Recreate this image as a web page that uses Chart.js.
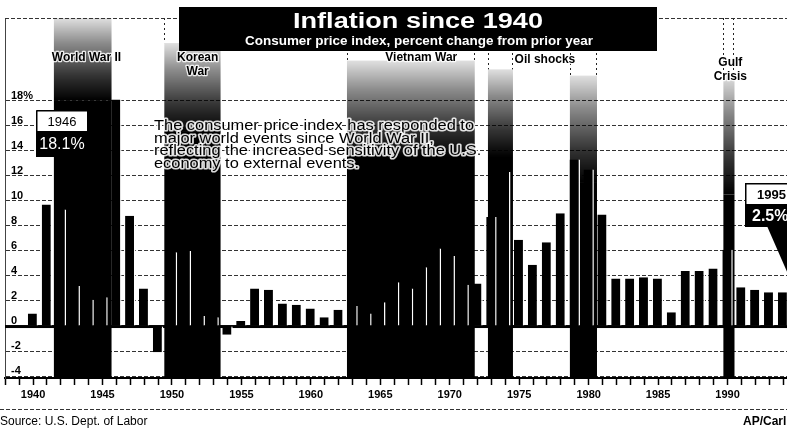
<!DOCTYPE html>
<html>
<head>
<meta charset="utf-8">
<title>Inflation since 1940</title>
<script src="https://cdn.jsdelivr.net/npm/chart.js@4.4.0/dist/chart.umd.min.js"></script>
<style>
  html, body { margin: 0; padding: 0; background: #fff; }
  #wrap { width: 787px; height: 429px; position: relative; }
</style>
</head>
<body>
<div id="wrap"><canvas id="inflationChart"></canvas></div>
<script>
// Consumer price index, percent change from prior year (December to December)
const years = [1940, 1941, 1942, 1943, 1944, 1945, 1946, 1947, 1948, 1949,
               1950, 1951, 1952, 1953, 1954, 1955, 1956, 1957, 1958, 1959,
               1960, 1961, 1962, 1963, 1964, 1965, 1966, 1967, 1968, 1969,
               1970, 1971, 1972, 1973, 1974, 1975, 1976, 1977, 1978, 1979,
               1980, 1981, 1982, 1983, 1984, 1985, 1986, 1987, 1988, 1989,
               1990, 1991, 1992, 1993, 1994, 1995];
const inflation = [1.0, 9.7, 9.3, 3.2, 2.1, 2.3, 18.1, 8.8, 3.0, -2.1,
                   5.9, 6.0, 0.8, 0.7, -0.7, 0.4, 3.0, 2.9, 1.8, 1.7,
                   1.4, 0.7, 1.3, 1.6, 1.0, 1.9, 3.5, 3.0, 4.7, 6.2,
                   5.6, 3.3, 3.4, 8.7, 12.3, 6.9, 4.9, 6.7, 9.0, 13.3,
                   12.5, 8.9, 3.8, 3.8, 3.9, 3.8, 1.1, 4.4, 4.4, 4.6,
                   6.1, 3.1, 2.9, 2.7, 2.7, 2.5];

// World events shaded on the chart (start / end in years)
const eventNames = ['World War II', 'Korean War', 'Vietnam War', 'Oil shocks', 'Oil shocks', 'Gulf Crisis'];
const eventStart = [1941.5, 1949.45, 1962.6, 1972.75, 1978.65, 1989.7];
const eventEnd   = [1945.65, 1953.5, 1971.8, 1974.55, 1980.6, 1990.5];

// Highlighted years
const calloutYears = [1946, 1995];

const yTickMin = -4;
const yTickMax = 18;

const FONT = "'Liberation Sans', Arial, sans-serif";

// where the shading of each band starts to fade in and where it is solid (in percent)
const bandFade = [[24.6, 18.0], [22.6, 15.5], [21.2, 13.5], [20.5, 13.5], [20.0, 11.5], [20.0, 10.5]];

function valueOf(year) {
    return inflation[years.indexOf(year)];
}

function fitText(ctx, text, cx, y, width) {
    const w = ctx.measureText(text).width;
    ctx.save();
    ctx.translate(cx, y);
    ctx.scale(width / w, 1);
    ctx.fillText(text, 0, 0);
    ctx.restore();
}

const bandsPlugin = {
    id: 'bands',
    beforeDatasetsDraw(chart) {
        const { ctx, chartArea, scales: { x, y } } = chart;
        ctx.save();
        ctx.beginPath();
        ctx.rect(chartArea.left, chartArea.top, chartArea.right - chartArea.left, chartArea.bottom - chartArea.top);
        ctx.clip();

        eventStart.forEach((start, i) => {
            const x0 = x.getPixelForValue(start);
            const x1 = x.getPixelForValue(eventEnd[i]);
            const yTop = y.getPixelForValue(bandFade[i][0]);
            const ySolid = y.getPixelForValue(bandFade[i][1]);

            const g = ctx.createLinearGradient(0, yTop, 0, ySolid);
            g.addColorStop(0, 'rgba(0,0,0,0.12)');
            g.addColorStop(0.3, 'rgba(0,0,0,0.45)');
            g.addColorStop(0.7, 'rgba(0,0,0,0.8)');
            g.addColorStop(1, 'rgba(0,0,0,1)');
            ctx.fillStyle = g;
            ctx.fillRect(x0, yTop, x1 - x0, ySolid - yTop);
            ctx.fillStyle = '#000';
            ctx.fillRect(x0, ySolid, x1 - x0, chartArea.bottom - ySolid);

            // dotted edges above the shading
            ctx.strokeStyle = '#222';
            ctx.lineWidth = 1;
            ctx.setLineDash([2, 3]);
            ctx.beginPath();
            ctx.moveTo(Math.round(x0) + 0.5, chartArea.top);
            ctx.lineTo(Math.round(x0) + 0.5, yTop);
            ctx.moveTo(Math.round(x1) - 0.5, chartArea.top);
            ctx.lineTo(Math.round(x1) - 0.5, yTop);
            ctx.stroke();
            ctx.setLineDash([]);
        });

        // heavy zero line
        const y0 = y.getPixelForValue(0);
        ctx.fillStyle = '#000';
        ctx.fillRect(chartArea.left - 2, y0 - 1, chartArea.right - chartArea.left + 2, 3);
        ctx.restore();
    },
    afterDatasetsDraw(chart) {
        const { ctx, scales: { x, y } } = chart;
        ctx.save();
        ctx.textAlign = 'center';
        ctx.textBaseline = 'middle';
        ctx.font = `bold 12px ${FONT}`;
        ctx.lineJoin = 'round';
        ctx.strokeStyle = 'rgba(255,255,255,0.85)';
        ctx.lineWidth = 2.5;
        ctx.fillStyle = '#000';

        const labels = [
            { text: 'World War II', year: 1943.85, lines: [21.45] },
            { text: 'Korean|War', year: 1951.85, lines: [21.4, 20.3] },
            { text: 'Vietnam War', year: 1967.95, lines: [21.4] },
            { text: 'Oil shocks', year: 1976.85, lines: [21.25] },
            { text: 'Gulf|Crisis', year: 1990.2, lines: [21.0, 19.95] }
        ];
        labels.forEach(l => {
            l.text.split('|').forEach((t, k) => {
                const px = x.getPixelForValue(l.year);
                const py = y.getPixelForValue(l.lines[k]);
                ctx.strokeText(t, px, py);
                ctx.fillText(t, px, py);
            });
        });

        // explanatory paragraph
        const para = [
            'The consumer price index has responded to',
            'major world events since World War II,',
            'reflecting the increased sensitivity of the U.S.',
            'economy to external events.'
        ];
        ctx.font = `14px ${FONT}`;
        ctx.textAlign = 'left';
        ctx.textBaseline = 'alphabetic';
        const sx = 320 / ctx.measureText(para[0]).width;
        const left = 154;
        para.forEach((line, k) => {
            const by = 130 + k * 12.5;
            ctx.save();
            ctx.translate(left, by);
            ctx.scale(sx, 1);
            ctx.lineWidth = 3;
            ctx.strokeText(line, 0, 0);
            ctx.fillText(line, 0, 0);
            ctx.restore();
        });

        // 1946 callout
        const yr1 = calloutYears[0];
        ctx.strokeStyle = '#000';
        ctx.lineWidth = 1;
        ctx.setLineDash([2, 2]);
        ctx.beginPath();
        ctx.moveTo(87, 151);
        ctx.lineTo(x.getPixelForValue(yr1 - 0.4), y.getPixelForValue(15.8));
        ctx.stroke();
        ctx.setLineDash([]);

        ctx.fillStyle = '#fff';
        ctx.fillRect(36, 110, 52, 22);
        ctx.lineWidth = 1.5;
        ctx.strokeRect(36.75, 110.75, 51, 21);
        ctx.fillStyle = '#000';
        ctx.fillRect(36, 132, 53, 25);
        ctx.textAlign = 'center';
        ctx.textBaseline = 'middle';
        ctx.font = `13px ${FONT}`;
        ctx.fillStyle = '#000';
        ctx.fillText(String(yr1), 62, 122);
        ctx.font = `16px ${FONT}`;
        ctx.fillStyle = '#fff';
        ctx.fillText(valueOf(yr1).toFixed(1) + '%', 62, 145);
        ctx.restore();
    },
    afterDraw(chart) {
        const { ctx, chartArea, scales: { x, y } } = chart;
        ctx.save();

        // dashed top frame
        ctx.strokeStyle = '#333';
        ctx.lineWidth = 1;
        ctx.setLineDash([4, 2]);
        ctx.beginPath();
        ctx.moveTo(chartArea.left, chartArea.top + 0.5);
        ctx.lineTo(chartArea.right, chartArea.top + 0.5);
        ctx.stroke();
        // footer rule
        ctx.beginPath();
        ctx.moveTo(0, 409.5);
        ctx.lineTo(787, 409.5);
        ctx.stroke();
        ctx.setLineDash([]);

        // title block
        ctx.fillStyle = '#000';
        ctx.fillRect(179, 7, 478, 44);
        ctx.fillStyle = '#fff';
        ctx.textAlign = 'center';
        ctx.textBaseline = 'alphabetic';
        ctx.font = `bold 22px ${FONT}`;
        fitText(ctx, 'Inflation since 1940', 418, 28, 250);
        ctx.font = `bold 12px ${FONT}`;
        fitText(ctx, 'Consumer price index, percent change from prior year', 419, 45, 348);

        // 1995 callout with pointer
        const yr2 = calloutYears[1];
        const tipX = x.getPixelForValue(yr2);
        const tipY = y.getPixelForValue(valueOf(yr2));
        ctx.fillStyle = '#000';
        ctx.beginPath();
        ctx.moveTo(767, 226);
        ctx.lineTo(800, 226);
        ctx.lineTo(tipX, tipY);
        ctx.closePath();
        ctx.fill();
        ctx.fillStyle = '#fff';
        ctx.fillRect(745, 183, 45, 22);
        ctx.strokeStyle = '#000';
        ctx.lineWidth = 1.5;
        ctx.strokeRect(745.75, 183.75, 45, 21);
        ctx.fillStyle = '#000';
        ctx.fillRect(745, 205, 45, 22);
        ctx.textBaseline = 'middle';
        ctx.textAlign = 'left';
        ctx.font = `bold 13px ${FONT}`;
        ctx.fillText(String(yr2), 757, 195);
        ctx.font = `bold 16px ${FONT}`;
        ctx.fillStyle = '#fff';
        ctx.fillText(valueOf(yr2).toFixed(1) + '%', 752, 217);

        // footer
        ctx.fillStyle = '#000';
        ctx.textBaseline = 'top';
        ctx.font = `12px ${FONT}`;
        ctx.fillText('Source: U.S. Dept. of Labor', 0, 416);
        ctx.font = `bold 12px ${FONT}`;
        ctx.fillText('AP/Carl Fox', 743, 416);
        ctx.restore();
    }
};

const ctx = document.getElementById('inflationChart').getContext('2d');
new Chart(ctx, {
    type: 'bar',
    data: {
        datasets: [{
            label: 'CPI change',
            data: years.map((yr, i) => ({ x: yr, y: inflation[i] })),
            backgroundColor: '#000',
            borderColor: '#fff',
            borderWidth: { right: 1.5 },
            barPercentage: 0.75,
            categoryPercentage: 1.0,
            clip: 0
        }]
    },
    options: {
        responsive: true,
        maintainAspectRatio: false,
        animation: false,
        layout: { padding: { left: 1, right: 0, top: 18, bottom: 27 } },
        plugins: {
            legend: { display: false },
            tooltip: { enabled: false }
        },
        scales: {
            x: {
                type: 'linear',
                min: 1937.98,
                max: 1994.28,
                offset: false,
                afterFit: s => { s.height = 24; },
                grid: {
                    offset: false,
                    drawOnChartArea: false,
                    drawTicks: true,
                    tickLength: 7,
                    tickColor: '#000',
                    tickWidth: 1.5
                },
                border: { display: true, color: '#000', width: 2 },
                ticks: {
                    stepSize: 1,
                    autoSkip: false,
                    maxRotation: 0,
                    includeBounds: false,
                    padding: 3,
                    color: '#000',
                    font: { family: FONT, weight: 'bold', size: 11 },
                    callback: v => (v % 5 === 0 ? String(v) : '')
                }
            },
            y: {
                min: -4.15,
                max: 24.6,
                afterFit: s => { s.width = 4; },
                afterBuildTicks: s => {
                    s.ticks = s.ticks.filter(t => t.value >= yTickMin && t.value <= yTickMax);
                },
                grid: {
                    drawTicks: false,
                    lineWidth: 1,
                    color: c => (c.tick && c.tick.value === 0 ? 'rgba(0,0,0,0)' : '#333')
                },
                border: { display: true, color: '#444', width: 1, dash: [4, 2] },
                ticks: {
                    stepSize: 2,
                    mirror: true,
                    padding: 6,
                    labelOffset: -5,
                    includeBounds: false,
                    color: '#000',
                    font: { family: FONT, weight: 'bold', size: 11 },
                    callback: v => (v === yTickMax ? v + '%' : String(v))
                }
            }
        }
    },
    plugins: [bandsPlugin]
});
</script>
</body>
</html>
